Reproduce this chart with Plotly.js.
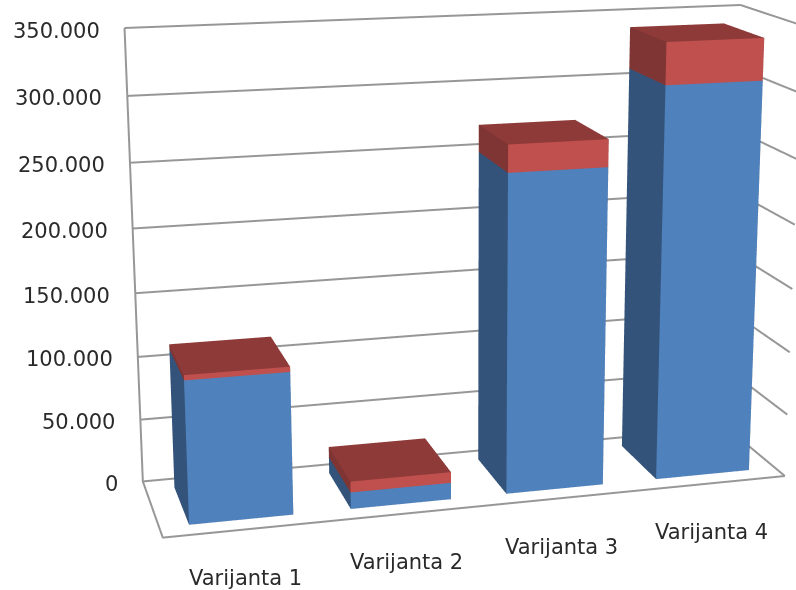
<!DOCTYPE html>
<html>
<head>
<meta charset="utf-8">
<title>Varijante</title>
<script src="https://cdn.plot.ly/plotly-3.0.1.min.js"></script>
<style>
  html, body { margin: 0; padding: 0; width: 796px; height: 590px; overflow: hidden; background: #fff; }
  /* The 45-degree lens of the 3D scene is narrowed by rendering a larger canvas around the window. */
  #chart { position: absolute; left: -535px; top: -614px; width: 2000px; height: 1746px; }
</style>
</head>
<body>
<div id="chart"></div>
<script>
const categories = ['Varijanta 1', 'Varijanta 2', 'Varijanta 3', 'Varijanta 4'];
const seriesLower = [110000, 13000, 248000, 307000];
const seriesUpper = [4000, 8500, 21000, 32000];
const valueTicks = [0, 50000, 100000, 150000, 200000, 250000, 300000, 350000];
const valueTickLabels = ['0', '50.000', '100.000', '150.000', '200.000', '250.000', '300.000', '350.000'];

const zMax = 350000;
const barWidth = 0.64;
const barDepth = 2 / 3;
const textColor = '#2a2a2a';
const fontFamily = '"DejaVu Sans", Verdana, sans-serif';
const frameColor = '#979797';

const lowerColors = { front: '#4f81bd', side: '#33537a', top: '#335a85' };
const upperColors = { front: '#c0504d', side: '#7e3533', top: '#8e3a38' };

// Builds one mesh holding a box per category, stacked on the given base values.
function boxMesh(base, height, colors) {
  const xs = [], ys = [], zs = [], is = [], js = [], ks = [], fc = [];
  const quad = (a, b, c, d, col) => {
    is.push(a, a); js.push(b, c); ks.push(c, d); fc.push(col, col);
  };
  categories.forEach((_, n) => {
    const x0 = n + (1 - barWidth) / 2, x1 = x0 + barWidth;
    const y0 = (1 - barDepth) / 2, y1 = y0 + barDepth;
    const z0 = base[n], z1 = base[n] + height[n];
    const o = xs.length;
    [[x0, y0, z0], [x1, y0, z0], [x1, y1, z0], [x0, y1, z0],
     [x0, y0, z1], [x1, y0, z1], [x1, y1, z1], [x0, y1, z1]].forEach(p => {
      xs.push(p[0]); ys.push(p[1]); zs.push(p[2]);
    });
    quad(o, o + 1, o + 5, o + 4, colors.front);
    quad(o + 3, o, o + 4, o + 7, colors.side);
    quad(o + 1, o + 2, o + 6, o + 5, colors.side);
    quad(o + 2, o + 3, o + 7, o + 6, colors.side);
    quad(o + 4, o + 5, o + 6, o + 7, colors.top);
    quad(o, o + 3, o + 2, o + 1, colors.side);
  });
  return {
    type: 'mesh3d', x: xs, y: ys, z: zs, i: is, j: js, k: ks, facecolor: fc,
    flatshading: true, hoverinfo: 'skip', showscale: false,
    lighting: { ambient: 1, diffuse: 0, specular: 0, roughness: 1, fresnel: 0 }
  };
}

const xMax = categories.length;

// Wall gridlines run along the back wall, then forward along the right wall.
const gridX = [], gridY = [], gridZ = [];
valueTicks.forEach(v => {
  gridX.push(0, xMax, xMax, null);
  gridY.push(1, 1, 0, null);
  gridZ.push(v, v, v, null);
});
const grid = {
  type: 'scatter3d', mode: 'lines', hoverinfo: 'skip', showlegend: false,
  x: gridX, y: gridY, z: gridZ, connectgaps: false,
  line: { color: frameColor, width: 4 }
};

// Chart frame: the open floor edges and the wall's left edge.
const frame = {
  type: 'scatter3d', mode: 'lines', hoverinfo: 'skip', showlegend: false,
  x: [xMax, 0, 0, 0],
  y: [0, 0, 1, 1],
  z: [0, 0, 0, zMax],
  line: { color: frameColor, width: 4 }
};

const zeros = categories.map(() => 0);
const data = [grid, frame, boxMesh(zeros, seriesLower, lowerColors), boxMesh(seriesLower, seriesUpper, upperColors)];

const hiddenAxis = {
  title: { text: '' }, showgrid: false, zeroline: false, showline: false,
  showticklabels: false, ticks: '', showbackground: false, showspikes: false
};

const labelFont = { family: fontFamily, size: 21, color: textColor };
const annotations = [];
valueTicks.forEach((v, n) => annotations.push({
  x: 0, y: 1, z: v, text: valueTickLabels[n], showarrow: false,
  xanchor: 'right', yanchor: 'middle', xshift: -23, yshift: -2.5, font: labelFont
}));
categories.forEach((c, n) => annotations.push({
  x: n + 0.5, y: 0, z: 0, text: c, showarrow: false,
  xanchor: 'center', yanchor: 'middle', xshift: -1, yshift: -48.5, font: labelFont
}));

const layout = {
  width: 2000, height: 1746,
  margin: { l: 0, r: 0, t: 0, b: 0, pad: 0 },
  paper_bgcolor: '#fff',
  showlegend: false,
  hovermode: false,
  scene: {
    domain: { x: [0, 1], y: [0, 1] },
    bgcolor: '#fff',
    aspectmode: 'manual',
    aspectratio: { x: 1, y: 0.2469, z: 0.7277 },
    camera: {
      eye: { x: -0.838, y: -3.074, z: 0.819 },
      center: { x: 0, y: 0, z: 0 },
      up: { x: 0, y: 0, z: 1 },
      projection: { type: 'perspective' }
    },
    xaxis: Object.assign({}, hiddenAxis, { range: [0, xMax], autorange: false }),
    yaxis: Object.assign({}, hiddenAxis, { range: [0, 1], autorange: false }),
    zaxis: Object.assign({}, hiddenAxis, { range: [0, zMax], autorange: false }),
    annotations: annotations
  }
};

Plotly.newPlot('chart', data, layout, { displayModeBar: false, responsive: false });
</script>
</body>
</html>
